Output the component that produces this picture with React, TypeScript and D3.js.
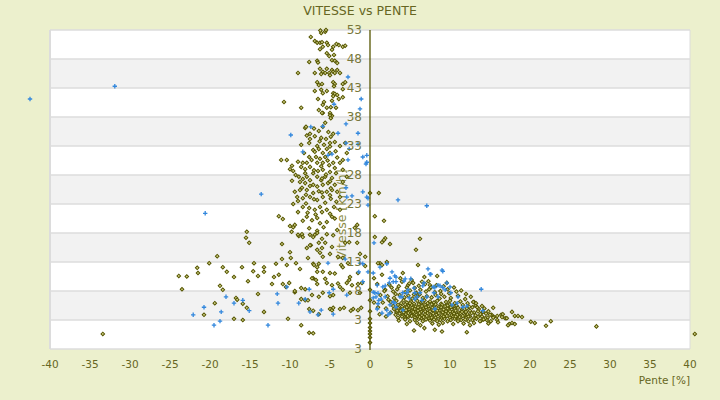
import React from 'react';
import * as d3 from 'd3';

type Pt = [number, number];

// axis ticks
const xTicks = [-40, -35, -30, -25, -20, -15, -10, -5, 0, 5, 10, 15, 20, 25, 30, 35, 40];
const yTicks = [53, 48, 43, 38, 33, 28, 23, 18, 13, 8, 3, -2];
const yTickLabels = ['53', '48', '43', '38', '33', '28', '23', '18', '13', '8', '3', '3'];

// olive series: [pente %, vitesse km/h]
const plumeTop: Pt[] = [
  [-7.4, 51.8], [-6.1, 52.5], [-5.6, 52.7], [-6.9, 51.1], [-6.6, 50.8], [-6.25, 50.8], [-6.0, 50.9],
  [-5.4, 50.8], [-5.25, 50.4], [-4.6, 50.1], [-3.9, 50.4], [-3.4, 50.1], [-5.9, 50.1], [-6.25, 49.7],
  [-4.75, 49.6], [-5.4, 49.0], [-5.1, 48.5], [-4.5, 48.7], [-4.75, 47.8], [-4.4, 47.7], [-4.1, 47.3],
  [-7.6, 47.5], [-6.6, 47.7], [-6.5, 47.4], [-6.9, 45.6], [-6.25, 46.3], [-5.9, 45.8], [-5.4, 46.3],
  [-5.1, 45.6], [-4.75, 46.1], [-4.6, 45.8], [-4.4, 45.6], [-4.1, 46.1], [-6.1, 45.4], [-5.6, 45.6],
  [-5.0, 45.2], [-3.75, 45.6], [-6.6, 44.0], [-6.4, 43.5], [-6.0, 43.7], [-4.6, 44.0], [-4.4, 43.7],
  [-4.5, 43.3], [-3.4, 43.7], [-3.1, 44.0], [-3.4, 42.8], [-6.9, 42.5], [-6.1, 42.7], [-5.9, 42.1],
  [-5.4, 42.5], [-4.6, 42.1], [-4.4, 42.0], [-4.6, 41.6], [-4.1, 41.8], [-3.4, 41.4], [-6.5, 41.1],
  [-5.75, 40.6], [-4.75, 40.8], [-3.9, 41.1], [-5.9, 40.1], [-5.4, 39.6], [-4.9, 39.7], [-4.25, 39.6],
  [-8.6, 39.6], [-5.0, 38.7], [-4.75, 38.2], [-5.9, 38.7], [-6.4, 39.2], [-9.0, 45.6], [-8.1, 36.1],
  [-5.6, 37.0], [-5.0, 38.3], [-3.1, 50.3], [-4.2, 50.6], [-10.75, 40.6], [-6.2, 52.9], [-5.5, 53.0],
];

const plumeMid: Pt[] = [
  [-6.0, 38.7], [-4.9, 37.8], [-5.9, 36.3], [-8.0, 36.3], [-7.5, 35.1], [-6.9, 34.7], [-7.5, 34.2],
  [-6.1, 34.4], [-4.6, 35.1], [-7.6, 33.5], [-6.6, 33.0], [-5.75, 33.2], [-5.0, 33.5], [-4.4, 33.7],
  [-3.1, 33.5], [-3.75, 33.0], [-7.1, 32.3], [-6.4, 32.5], [-8.25, 31.8], [-5.4, 32.5], [-5.9, 31.8],
  [-5.0, 31.8], [-7.6, 31.1], [-6.75, 31.1], [-6.25, 30.8], [-5.6, 31.1], [-2.9, 31.8], [-11.1, 30.6],
  [-10.4, 30.6], [-9.75, 29.6], [-10.0, 29.0], [-9.6, 28.7], [-8.4, 30.1], [-8.6, 29.4], [-7.9, 30.1],
  [-7.5, 29.4], [-6.6, 30.1], [-5.9, 30.1], [-5.1, 29.7], [-4.6, 30.1], [-3.75, 30.1], [-3.4, 30.6],
  [-8.1, 28.3], [-7.1, 28.3], [-6.5, 28.7], [-5.9, 28.9], [-5.0, 28.5], [-4.25, 28.3], [-3.4, 28.9],
  [-8.9, 27.7], [-7.9, 27.7], [-7.5, 27.1], [-6.6, 27.7], [-6.1, 27.1], [-5.6, 27.7], [-4.75, 27.5],
  [-2.9, 27.7], [-9.75, 27.0], [-8.75, 26.8], [-8.1, 26.6], [-7.1, 26.3], [-5.9, 26.3], [-5.25, 26.6],
  [-4.4, 26.3], [-3.4, 26.8], [-9.4, 25.1], [-8.75, 25.4], [-7.9, 25.4], [-7.1, 24.9], [-6.4, 25.2],
  [-5.4, 25.1], [-4.75, 25.4], [-4.1, 25.1], [-9.1, 24.2], [-8.4, 24.0], [-7.5, 24.2], [-6.6, 23.7],
  [-5.9, 24.2], [-4.9, 23.9], [-3.75, 24.2], [-9.6, 23.0], [-8.4, 22.5], [-7.6, 22.3], [-6.9, 22.0],
  [-6.25, 22.5], [-5.4, 22.0], [-4.5, 22.5], [-3.75, 22.0], [-11.4, 20.9], [-10.9, 20.4], [-9.6, 19.0],
  [-9.4, 19.4], [-7.9, 20.8], [-7.25, 20.2], [-6.6, 20.6], [-6.25, 19.7], [-5.4, 19.9], [-4.75, 20.8],
  [-7.5, 17.7], [-7.1, 17.3], [-8.5, 17.8], [-8.9, 17.5], [-5.4, 17.8], [-4.1, 18.5], [-1.6, 19.4],
  [-1.9, 18.9], [1.1, 24.9], [1.75, 20.1], [0.6, 20.9], [0.6, 17.3], [1.9, 17.1], [-10.0, 19.2],
  [-15.4, 18.2], [-15.1, 16.3], [-11.0, 16.1], [-15.5, 17.2],
  [-7.0, 36.0], [-6.4, 35.6], [-5.2, 35.4], [-7.9, 34.8], [-5.5, 34.2], [-4.9, 34.6], [-6.3, 33.8],
  [-8.6, 33.2], [-5.0, 32.9], [-6.9, 32.0], [-4.3, 32.1], [-7.3, 30.6], [-5.3, 30.5], [-4.1, 31.0],
  [-9.0, 30.3], [-6.1, 29.5], [-8.1, 29.0], [-4.4, 29.2], [-7.0, 28.8], [-5.5, 28.1], [-9.3, 28.0],
  [-6.0, 27.4], [-8.4, 27.3], [-5.0, 26.9], [-7.5, 26.1], [-6.6, 26.0], [-4.9, 25.7], [-8.5, 25.8],
  [-6.0, 25.0], [-8.0, 24.6], [-5.0, 24.5], [-7.0, 23.8], [-9.0, 23.5], [-5.6, 23.2], [-8.0, 23.1],
  [-4.2, 23.4], [-6.0, 21.6], [-7.8, 21.5], [-5.0, 21.3], [-9.0, 21.6], [-6.8, 21.2], [-4.4, 20.5],
  [-8.4, 20.1], [-5.8, 19.0], [-7.6, 18.8], [-6.6, 18.4], [-9.8, 18.2], [-4.6, 17.6], [-6.0, 17.0],
];

const plumeLow: Pt[] = [
  [-9.0, 17.7], [-8.4, 17.3], [-6.9, 17.7], [-6.6, 18.0], [-7.9, 15.4], [-7.4, 15.9], [-6.4, 16.3],
  [-5.6, 16.3], [-6.0, 15.4], [-4.75, 15.6], [-6.25, 14.6], [-5.9, 13.9], [-5.0, 14.4], [-4.0, 13.9],
  [-3.4, 13.7], [-3.1, 16.3], [-2.6, 16.4], [-1.6, 16.3], [-1.25, 14.4], [-9.25, 12.8], [-7.1, 12.7],
  [-6.6, 12.1], [-5.9, 11.3], [-5.0, 11.1], [-4.4, 11.0], [-3.6, 12.5], [-3.4, 12.1], [-2.75, 12.8],
  [-2.5, 10.4], [-1.5, 11.1], [-0.6, 12.3], [-8.75, 11.8], [-7.1, 10.2], [-6.75, 9.9], [-5.6, 10.1],
  [-5.4, 9.4], [-4.75, 9.0], [-4.0, 9.3], [-3.75, 8.7], [-2.9, 9.4], [-2.6, 9.9], [-2.25, 9.0],
  [-1.5, 9.2], [-1.25, 7.7], [-9.4, 7.8], [-8.1, 8.3], [-7.25, 7.3], [-5.9, 7.7], [-5.0, 7.1],
  [-4.6, 7.3], [-3.4, 8.2], [-2.5, 7.7], [-8.6, 6.6], [-8.1, 6.4], [-7.75, 6.4], [-6.4, 7.0],
  [-7.6, 4.9], [-7.1, 4.6], [-5.0, 4.9], [-4.75, 4.7], [-4.6, 5.1], [-3.75, 4.9], [-3.25, 5.1],
  [-2.4, 4.6], [-2.1, 4.9], [-1.5, 4.7], [-1.1, 5.1], [-8.6, 2.1], [-7.6, 0.8], [-7.1, 0.7],
  [-7.5, 15.9], [-6.6, 15.1], [-7.75, 13.7], [-7.0, 12.5], [-6.4, 12.7], [-6.6, 11.3], [-7.25, 10.2],
  [-6.6, 9.2], [-8.6, 8.5], [-6.4, 4.0], [-10.25, 3.2], [-1.0, 9.4], [-0.6, 13.9],
];

const leftScatter: Pt[] = [
  [-19.1, 14.0], [-20.1, 12.8], [-21.6, 12.0], [-21.5, 11.1], [-23.9, 10.6], [-22.9, 10.5],
  [-23.5, 8.3], [-18.4, 12.1], [-17.9, 11.3], [-17.0, 10.4], [-16.0, 12.1], [-15.25, 9.7],
  [-14.5, 12.8], [-14.6, 11.4], [-14.0, 10.6], [-13.25, 12.1], [-13.25, 11.3], [-18.75, 8.9],
  [-18.4, 8.2], [-19.4, 5.9], [-20.75, 3.9], [-16.75, 6.8], [-16.6, 6.5], [-15.9, 5.8],
  [-15.4, 5.1], [-14.0, 7.5], [-13.25, 4.4], [-17.0, 3.2], [-15.9, 3.0], [-10.0, 14.7],
  [-11.0, 13.5], [-9.9, 13.7], [-10.4, 12.5], [-11.75, 12.7], [-12.0, 10.4], [-11.4, 10.8],
  [-12.25, 9.2], [-10.9, 9.2], [-10.1, 9.4], [-10.5, 8.7], [-9.4, 8.0], [-33.4, 0.6], [28.3, 1.9],
  [40.6, 0.6],
];

const axisPoints: Pt[] = [
  [0, 24.9], [0, 8.2], [0, 6.4], [0, 4.5], [0, 3.2], [0, 2.5], [0, 1.7], [0, 1.1], [0, 0.6], [0, 0.0], [0, -0.9],
];

const nearAxis: Pt[] = [
  [1.5, 16.4], [1.75, 16.8], [2.5, 16.1], [6.25, 17.0], [5.75, 15.1], [1.25, 12.8], [1.5, 12.5],
  [2.1, 13.0], [6.0, 12.5], [4.1, 11.1], [0.5, 10.2], [0.9, 9.2], [1.9, 8.2], [1.0, 12.8],
  [1.5, 10.8], [8.4, 10.6], [9.6, 9.4], [7.5, 9.0], [5.4, 9.4], [4.75, 9.0],
  [0.5, 6.0], [1.0, 5.2], [1.3, 7.3], [1.6, 6.0], [2.0, 5.0], [2.3, 6.5], [1.2, 4.0], [2.0, 3.6], [2.6, 4.3],
];

const clusterHigh: Pt[] = [
  [3.8, 10.2], [5.2, 9.9], [6.8, 10.4], [7.3, 9.7], [2.4, 9.1], [3.6, 8.8], [4.9, 9.3], [6.1, 8.9],
  [6.9, 9.2], [7.6, 8.6], [8.3, 9.0], [9.2, 8.8], [10.5, 8.6], [1.8, 8.0], [2.9, 7.9], [3.4, 8.3],
  [4.4, 7.8], [5.0, 8.1], [5.8, 7.7], [6.3, 8.2], [7.0, 7.9], [7.4, 8.3], [8.1, 7.8], [8.8, 8.0],
  [9.9, 7.6], [10.8, 7.9], [12.0, 7.5], [2.2, 7.1], [3.0, 6.8], [3.7, 7.3], [4.3, 6.9], [4.8, 7.2],
  [5.3, 6.7], [5.9, 7.0], [6.2, 7.4], [6.6, 6.8], [7.1, 7.1], [7.7, 6.9], [8.2, 7.3], [8.7, 6.7],
  [9.3, 7.0], [10.1, 6.8], [11.0, 7.2], [11.9, 6.6], [12.6, 7.0], [4.0, 9.6], [5.6, 8.5], [6.5, 9.6],
  [2.7, 8.6], [3.2, 7.5], [9.7, 8.3], [11.4, 8.1], [5.5, 7.4], [8.9, 7.5], [4.6, 8.6],
];

const clusterCore: Pt[] = [
  [2.6, 6.1], [3.3, 6.3], [3.9, 5.9], [4.2, 6.4], [4.6, 6.0], [5.1, 6.2], [5.5, 5.8], [5.9, 6.3],
  [6.4, 6.0], [6.8, 6.4], [7.2, 5.9], [7.5, 6.2], [8.0, 6.0], [8.4, 6.3], [8.9, 5.8], [9.5, 6.1],
  [10.0, 6.3], [10.6, 5.9], [11.3, 6.2], [12.2, 5.9], [13.0, 6.1],
  [2.9, 5.4], [3.5, 5.6], [4.0, 5.3], [4.4, 5.7], [4.8, 5.4], [5.2, 5.6], [5.7, 5.3], [6.1, 5.7],
  [6.5, 5.4], [6.9, 5.6], [7.3, 5.3], [7.7, 5.7], [8.1, 5.5], [8.6, 5.3], [9.0, 5.6], [9.4, 5.4],
  [9.9, 5.7], [10.3, 5.3], [10.8, 5.5], [11.6, 5.6], [12.4, 5.3], [13.2, 5.5], [14.0, 5.4],
  [3.0, 4.9], [3.5, 5.1], [3.9, 4.8], [4.3, 5.0], [4.6, 5.2], [4.9, 4.8], [5.3, 5.1], [5.6, 4.9],
  [6.0, 5.2], [6.3, 4.8], [6.7, 5.0], [7.0, 5.2], [7.4, 4.9], [7.8, 5.1], [8.1, 4.8], [8.5, 5.0],
  [8.9, 5.2], [9.2, 4.8], [9.7, 5.0], [10.1, 5.2], [10.6, 4.9], [11.0, 5.1], [11.5, 4.8], [12.1, 5.0],
  [12.8, 5.2], [13.6, 4.9], [14.3, 5.0],
  [3.3, 4.4], [3.8, 4.6], [4.2, 4.3], [4.5, 4.7], [4.9, 4.4], [5.3, 4.6], [5.7, 4.3], [6.0, 4.6],
  [6.4, 4.4], [6.8, 4.7], [7.1, 4.3], [7.5, 4.5], [7.9, 4.7], [8.3, 4.4], [8.7, 4.6], [9.1, 4.3],
  [9.5, 4.5], [9.9, 4.7], [10.3, 4.4], [10.7, 4.6], [11.1, 4.3], [11.6, 4.6], [12.0, 4.4], [12.5, 4.6],
  [13.0, 4.3], [13.5, 4.5], [14.1, 4.4], [14.8, 4.5],
  [3.2, 3.9], [3.7, 4.1], [4.1, 3.8], [4.5, 4.0], [4.8, 4.2], [5.2, 3.8], [5.5, 4.1], [5.8, 3.9],
  [6.2, 4.2], [6.5, 3.8], [6.9, 4.0], [7.2, 4.2], [7.6, 3.8], [7.9, 4.1], [8.3, 3.9], [8.6, 4.2],
  [9.0, 3.8], [9.4, 4.0], [9.8, 4.2], [10.2, 3.8], [10.5, 4.1], [10.9, 3.9], [11.3, 4.2], [11.8, 3.8],
  [12.2, 4.0], [12.7, 4.2], [13.2, 3.8], [13.8, 4.0], [14.5, 4.1], [15.2, 3.9],
  [3.5, 3.4], [4.0, 3.6], [4.4, 3.3], [4.8, 3.5], [5.2, 3.7], [5.6, 3.4], [6.0, 3.6], [6.4, 3.3],
  [6.7, 3.5], [7.1, 3.7], [7.4, 3.3], [7.8, 3.6], [8.2, 3.4], [8.5, 3.6], [8.9, 3.3], [9.3, 3.5],
  [9.6, 3.7], [10.0, 3.4], [10.4, 3.6], [10.8, 3.3], [11.2, 3.5], [11.6, 3.7], [12.0, 3.4], [12.5, 3.6],
  [13.0, 3.3], [13.5, 3.5], [14.0, 3.6], [14.7, 3.4], [15.5, 3.5],
  [3.6, 2.9], [4.4, 3.1], [5.0, 2.8], [5.6, 3.0], [6.1, 3.2], [6.6, 2.8], [7.0, 3.1], [7.5, 2.9],
  [8.0, 3.1], [8.4, 2.8], [8.8, 3.0], [9.3, 3.2], [9.7, 2.8], [10.1, 3.0], [10.6, 3.2], [11.0, 2.8],
  [11.4, 3.0], [11.9, 3.1], [12.3, 2.8], [12.8, 3.0], [13.3, 3.2], [13.9, 2.9], [14.6, 3.0],
  [3.4, 4.6], [4.7, 3.7], [5.4, 4.4], [6.2, 3.5], [6.9, 4.5], [7.7, 3.4], [8.4, 4.6], [9.2, 3.6],
  [10.0, 4.5], [10.7, 3.6], [11.5, 4.4], [12.3, 3.6], [5.0, 5.9], [6.6, 6.1], [8.2, 5.7], [9.7, 5.5],
];

const clusterLow: Pt[] = [
  [4.6, 2.3], [5.9, 2.5], [6.3, 2.1], [7.8, 2.4], [8.6, 2.2], [9.1, 2.5], [10.4, 2.3], [11.7, 2.4],
  [12.5, 2.1], [13.0, 2.5], [5.5, 1.2], [9.0, 1.0], [12.1, 0.9], [8.1, 1.3], [6.8, 1.6],
];

const tail: Pt[] = [
  [12.9, 6.1], [13.25, 5.9], [13.4, 5.2], [15.4, 5.1], [15.0, 3.9], [15.9, 3.7], [16.4, 3.9],
  [16.6, 4.0], [16.5, 3.5], [16.9, 3.3], [17.1, 3.3], [17.75, 4.4], [18.1, 3.7], [18.5, 3.7],
  [19.0, 3.5], [17.75, 2.5], [17.4, 2.3], [17.25, 2.1], [18.1, 2.3], [20.1, 2.7], [20.6, 2.5],
  [22.0, 2.0], [22.6, 2.8], [14.4, 3.3], [13.75, 2.8], [15.1, 2.8], [15.9, 3.0], [15.4, 3.4],
  [14.2, 3.1], [16.0, 2.6], [14.8, 2.4],
];

// blue series
const blueOutliers: Pt[] = [
  [-42.5, 41.1], [-31.9, 43.3], [-20.6, 21.4], [-13.6, 24.7], [-8.4, 32.0],
];

const blueLeft: Pt[] = [
  [-11.6, 7.5], [-11.5, 5.9], [-8.9, 5.9], [-8.1, 6.6], [-7.6, 8.3], [-10.4, 8.7], [-18.0, 7.0],
  [-15.9, 6.4], [-17.0, 5.9], [-15.1, 4.6], [-18.6, 4.4], [-20.75, 5.2], [-22.1, 3.9], [-18.75, 2.8],
  [-19.5, 2.1], [-12.75, 2.1], [-7.5, 4.4], [-6.5, 3.9], [-5.25, 12.8], [-3.1, 13.5], [-1.4, 11.3],
  [-0.9, 9.6], [-5.1, 7.7], [-4.6, 8.3], [-6.1, 4.7], [-4.6, 4.0], [-2.9, 7.3], [0.5, 16.3], [1.25, 12.1],
];

const bluePlume: Pt[] = [
  [-2.75, 44.9], [-1.1, 41.1], [-1.25, 39.4], [-4.5, 40.2], [-7.4, 36.3], [-5.9, 36.4], [-3.0, 36.8],
  [-4.0, 35.2], [-1.5, 35.2], [-9.9, 34.9], [-5.25, 31.4], [-4.75, 31.6], [-3.0, 33.5], [-1.5, 33.3],
  [-2.6, 32.5], [-2.75, 30.6], [-0.9, 31.1], [-0.4, 31.4], [-0.5, 29.9], [-0.4, 30.2], [-3.0, 25.8],
  [-2.9, 24.2], [-2.25, 24.4], [-0.9, 25.1], [-0.4, 24.2], [-0.25, 24.0], [-0.25, 22.8], [3.5, 23.7],
  [7.1, 22.7],
];

const blueRight: Pt[] = [
  [2.1, 12.7], [2.5, 10.2], [3.25, 10.4], [3.25, 9.6], [2.4, 9.4], [1.9, 8.9], [4.4, 10.1], [5.1, 10.1],
  [5.5, 8.5], [7.25, 11.8], [7.6, 10.9], [9.1, 11.4], [6.75, 9.4], [7.9, 8.7], [8.0, 7.7], [8.75, 8.9],
  [9.6, 9.4], [10.0, 8.7], [9.4, 8.2], [10.1, 7.7], [11.0, 7.0], [10.9, 5.9], [10.25, 5.6], [11.6, 5.2],
  [12.1, 5.4], [13.9, 8.3], [14.1, 4.6], [0.4, 11.1], [0.9, 9.0], [0.4, 7.8], [0.75, 7.0], [1.1, 6.4],
  [0.4, 6.8], [1.0, 5.8], [0.9, 4.9], [2.5, 5.6], [2.9, 6.1], [4.0, 7.0], [4.6, 7.7], [4.9, 6.8],
  [5.9, 7.0], [6.5, 6.4], [1.5, 4.2], [2.25, 3.9], [3.25, 5.2], [4.1, 4.7], [8.1, 4.9], [9.0, 11.6],
  [2.75, 11.3], [3.1, 10.6], [4.25, 9.7], [1.6, 8.7], [2.9, 9.6], [6.6, 8.9], [8.1, 8.6], [0.6, 7.7],
  [1.0, 7.6], [1.4, 6.6], [1.9, 7.0], [3.1, 5.9], [3.75, 7.0], [4.1, 7.7], [4.75, 8.2], [5.6, 7.7],
  [6.25, 7.7], [5.6, 6.6], [7.1, 7.0], [8.5, 7.0], [-0.25, 11.3], [-0.9, 12.7], [-1.25, 12.8],
  [2.5, 4.2], [2.1, 4.7], [7.5, 10.9], [8.5, 9.0], [9.1, 8.6],
];

const olive: Pt[] = [
  ...plumeTop, ...plumeMid, ...plumeLow, ...leftScatter, ...axisPoints, ...nearAxis,
  ...clusterHigh, ...clusterCore, ...clusterLow, ...tail,
];
const blue: Pt[] = [...blueOutliers, ...blueLeft, ...bluePlume, ...blueRight];

const W = 720;
const H = 400;
const L = 50, R = 690, T = 30, B = 349;

const OLIVE = '#555500';
const TEXT = '#666622';
const FONT = 'DejaVu Sans, Verdana, sans-serif';

export default function App() {
  const x = d3.scaleLinear().domain([-40, 40]).range([L, R]);
  const y = d3.scaleLinear().domain([-2, 53]).range([B, T]);
  const diamond = d3.symbol(d3.symbolSquare, 6.5)() as string;

  return (
    <svg width={W} height={H} style={{ position: 'absolute', left: 0, top: 0 }} fontFamily={FONT}>
      <rect width={W} height={H} fill="#ecf0cd" />
      {yTicks.slice(0, -1).map((t, i) => (
        <rect key={'b' + t} x={L} y={y(t)} width={R - L} height={y(yTicks[i + 1]) - y(t)}
          fill={i % 2 === 0 ? '#ffffff' : '#f2f2f2'} />
      ))}
      {yTicks.map(t => (
        <line key={'g' + t} x1={L} x2={R} y1={y(t)} y2={y(t)} stroke="#dcdcdc" strokeWidth={1.5} />
      ))}
      <line x1={L} x2={L} y1={T} y2={B} stroke="#dcdcdc" strokeWidth={2} />
      <line x1={R} x2={R} y1={T} y2={B} stroke="#dcdcdc" strokeWidth={1} />
      <text transform={`translate(346,${(T + B) / 2 + 25}) rotate(-90)`} textAnchor="middle"
        fontSize={12.5} fill="#8a8a44">Vitesse [km/h]</text>

      {olive.map((d, i) => (
        <path key={'o' + i} d={diamond} transform={`translate(${x(d[0])},${y(d[1])}) rotate(45)`}
          fill="#d6d68c" stroke={OLIVE} strokeWidth={1} />
      ))}
      {blue.map((d, i) => (
        <path key={'p' + i} d="M-2.2,0H2.2M0,-2.2V2.2" transform={`translate(${x(d[0])},${y(d[1])})`}
          stroke="#3388dd" strokeWidth={1.3} fill="none" />
      ))}

      <line x1={x(0)} x2={x(0)} y1={T} y2={B + 1} stroke={OLIVE} strokeWidth={1.3} />
      {yTicks.map((t, i) => (
        <text key={'yl' + t} x={x(0) - 8} y={y(t)} dy="0.35em" textAnchor="end" fontSize={12}
          fill="#77773a">{yTickLabels[i]}</text>
      ))}
      {xTicks.map(t => (
        <text key={'xl' + t} x={x(t)} y={368} textAnchor="middle" fontSize={10.5} fill={TEXT}>{t}</text>
      ))}
      <text x={R} y={384} textAnchor="end" fontSize={10.5} fill={TEXT}>Pente [%]</text>
      <text x={360} y={15} textAnchor="middle" fontSize={12.5} fill={TEXT}>VITESSE vs PENTE</text>
    </svg>
  );
}
